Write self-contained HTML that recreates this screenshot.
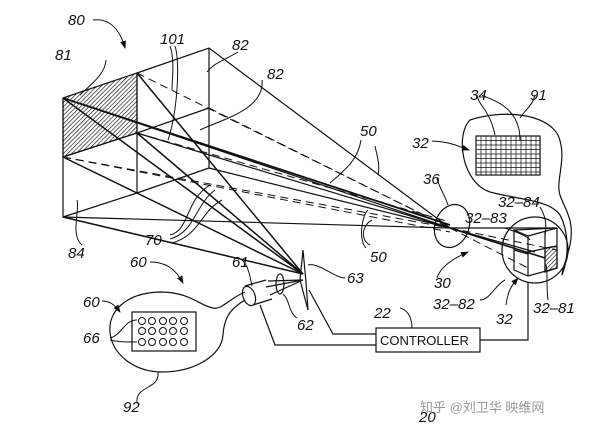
<!DOCTYPE html>
<html><head><style>
html,body{margin:0;padding:0;background:#fff}
svg{display:block}
text{font-family:"Liberation Sans",sans-serif;font-style:italic;font-size:15px;fill:#111}
</style></head><body>
<svg width="608" height="433" viewBox="0 0 608 433" xmlns="http://www.w3.org/2000/svg">
<defs>
<pattern id="h" width="3" height="3" patternUnits="userSpaceOnUse" patternTransform="rotate(45)">
<line x1="0" y1="0" x2="0" y2="3" stroke="#111" stroke-width="1.3"/></pattern>
<marker id="a" markerWidth="8" markerHeight="8" refX="7" refY="4" orient="auto"><path d="M0,1 L8,4 L0,7 Z" fill="#111"/></marker>
</defs>
<g fill="none" stroke="#111" stroke-width="1.2">
<path d="M63,98 L137,73 L137,133 L63,157 Z" fill="url(#h)"/>
<path d="M63,98 L63,217 L450,228 L557,228"/>
<path d="M137,73 L209,48 L450,228"/>
<path d="M209,48 L209,168"/>
<path d="M137,73 L137,193"/>
<path d="M137,133 L209,108"/>
<path d="M63,217 L137,193 L209,168"/>
<path d="M63,157 L137,133"/>
<path d="M63,98 L450,228"/>
<path d="M137,133 L450,228"/>
<path d="M209,168 L450,228"/>
<path d="M63,98 L450,225" stroke-width="1.8"/>
<g stroke-dasharray="8,5" stroke-width="1">
<path d="M137,73 L450,228"/>
<path d="M63,157 L450,228"/>
<path d="M209,108 L450,228"/>
<path d="M137,133 L450,222"/>
<path d="M63,157 L450,232"/>
<path d="M450,228 L528,268"/>
<path d="M450,228 L557,250"/>
</g>
<path d="M450,228 L545,258" stroke-width="1.6"/>
<path d="M450,228 L535,252"/>
<g stroke-width="1.5">
<path d="M303,274 L63,98"/>
<path d="M303,274 L63,157"/>
<path d="M303,274 L137,73"/>
<path d="M303,274 L137,133"/>
<path d="M303,274 L63,217"/>
</g>
<ellipse cx="452" cy="226" rx="17" ry="22" transform="rotate(20 452 226)"/>
<path d="M557,228 L557,268 L528,276 L514,270 L514,230 L557,228"/>
<path d="M514,230 L528,236 L528,276"/>
<path d="M528,236 L557,228"/>
<path d="M528,252 L557,246"/>
<path d="M514,250 L528,254"/>
<path d="M545,232 L545,272"/>
<path d="M545,248 L557,246 L557,268 L545,272 Z" fill="url(#h)"/>
<circle cx="535" cy="250" r="33"/>
<path d="M470,120 C500,110 545,112 558,135 C568,158 555,180 560,195 C565,210 575,220 570,245 C566,262 562,270 562,275 C570,255 568,230 560,215 C550,200 520,200 490,192 C462,183 455,135 470,120 Z"/>
<rect x="476" y="136" width="64" height="39"/>
<g stroke-width="0.7">
<path d="M476,140.5H540M476,145H540M476,149.5H540M476,154H540M476,158.5H540M476,163H540M476,167.5H540M476,172H540"/>
<path d="M481,136V175M486,136V175M491,136V175M496,136V175M501,136V175M506,136V175M511,136V175M516,136V175M521,136V175M526,136V175M531,136V175M536,136V175"/>
</g>
<ellipse cx="249" cy="296" rx="6" ry="10" transform="rotate(-20 249 296)"/>
<path d="M245,286 L266,280 M253,305 L272,299"/>
<ellipse cx="280" cy="284" rx="4" ry="10"/>
<path d="M268,281 L303,280 M270,295 L303,280 M266,287 L303,280"/>
<path d="M303,250 L300,280 L308,310 L306,282 Z"/>
<rect x="376" y="328" width="104" height="24"/>
<path d="M260,305 L275,345 L376,345"/>
<path d="M309,290 L333,334 L376,334"/>
<path d="M480,340 L528,340 L528,282"/>
<!-- blob 92 -->
<path d="M245,292 C230,298 222,310 213,308 C200,306 190,292 160,292 C125,293 108,312 110,332 C112,355 135,372 162,372 C195,372 222,355 223,335 C224,320 228,310 245,300"/>
<rect x="132" y="312" width="64" height="39"/>
</g>
<g fill="none" stroke="#111" stroke-width="1">
<circle cx="142" cy="321" r="3.5"/><circle cx="152" cy="321" r="3.5"/><circle cx="163" cy="321" r="3.5"/><circle cx="173" cy="321" r="3.5"/><circle cx="184" cy="321" r="3.5"/>
<circle cx="142" cy="331" r="3.5"/><circle cx="152" cy="331" r="3.5"/><circle cx="163" cy="331" r="3.5"/><circle cx="173" cy="331" r="3.5"/><circle cx="184" cy="331" r="3.5"/>
<circle cx="142" cy="342" r="3.5"/><circle cx="152" cy="342" r="3.5"/><circle cx="163" cy="342" r="3.5"/><circle cx="173" cy="342" r="3.5"/><circle cx="184" cy="342" r="3.5"/>
<path d="M93,20 C110,18 120,30 125,48" marker-end="url(#a)"/>
<path d="M106,60 C105,75 90,85 80,95"/>
<path d="M170,46 C175,60 172,80 172,90 M175,46 C180,60 178,110 168,140"/>
<path d="M238,52 C225,60 215,62 207,72"/>
<path d="M262,80 C265,110 220,120 200,130"/>
<path d="M82,245 C70,235 80,210 77,200"/>
<path d="M170,235 C190,230 185,200 210,185 M170,239 C195,232 195,205 215,190 M172,243 C200,235 200,212 222,200"/>
<path d="M150,262 C165,262 175,268 183,283" marker-end="url(#a)"/>
<path d="M102,301 C110,301 115,305 120,312" marker-end="url(#a)"/>
<path d="M110,338 C122,335 124,320 137,320 M110,340 C118,342 125,342 137,342"/>
<path d="M137,403 C135,385 160,390 158,372"/>
<path d="M242,260 C248,265 250,276 252,286"/>
<path d="M297,318 C288,312 290,300 283,294"/>
<path d="M345,278 C335,278 318,262 308,265"/>
<path d="M400,308 C408,310 412,318 412,328"/>
<path d="M361,140 C358,160 345,170 330,183 M375,146 C378,160 380,165 378,175"/>
<path d="M370,245 C360,240 362,225 372,220 M366,248 C358,240 362,215 368,210"/>
<path d="M437,178 C440,190 445,195 448,205"/>
<path d="M437,278 C440,268 450,260 468,252" marker-end="url(#a)"/>
<path d="M432,141 C450,142 455,145 469,150" marker-end="url(#a)"/>
<path d="M477,95 C478,105 490,110 495,135 M482,95 C490,100 520,105 520,140"/>
<path d="M535,95 C533,105 525,110 520,118"/>
<path d="M505,228 C510,230 527,235 530,240"/>
<path d="M540,207 C545,215 547,225 545,235"/>
<path d="M480,300 C490,300 495,285 505,280"/>
<path d="M506,305 C508,290 512,285 518,278" marker-end="url(#a)"/>
<path d="M548,300 C546,285 548,272 546,265"/>
</g>
<text x="68" y="25">80</text>
<text x="55" y="60">81</text>
<text x="160" y="44">101</text>
<text x="232" y="50">82</text>
<text x="267" y="79">82</text>
<text x="360" y="136">50</text>
<text x="370" y="262">50</text>
<text x="68" y="258">84</text>
<text x="145" y="245">70</text>
<text x="130" y="267">60</text>
<text x="83" y="307">60</text>
<text x="83" y="343">66</text>
<text x="123" y="412">92</text>
<text x="232" y="267">61</text>
<text x="297" y="330">62</text>
<text x="347" y="283">63</text>
<text x="374" y="318">22</text>
<text x="412" y="148">32</text>
<text x="470" y="100">34</text>
<text x="530" y="100">91</text>
<text x="423" y="184">36</text>
<text x="465" y="223">32–83</text>
<text x="498" y="207">32–84</text>
<text x="434" y="288">30</text>
<text x="433" y="309">32–82</text>
<text x="496" y="324">32</text>
<text x="533" y="313">32–81</text>
<text x="419" y="422">20</text>
<text x="380" y="345" style="font-style:normal;font-size:13px">CONTROLLER</text>
<text x="420" y="412" style="font-style:normal;font-size:13px;fill:#999;font-family:'Liberation Sans','Noto Sans CJK SC',sans-serif">知乎 @刘卫华 映维网</text>
</svg>
</body></html>
